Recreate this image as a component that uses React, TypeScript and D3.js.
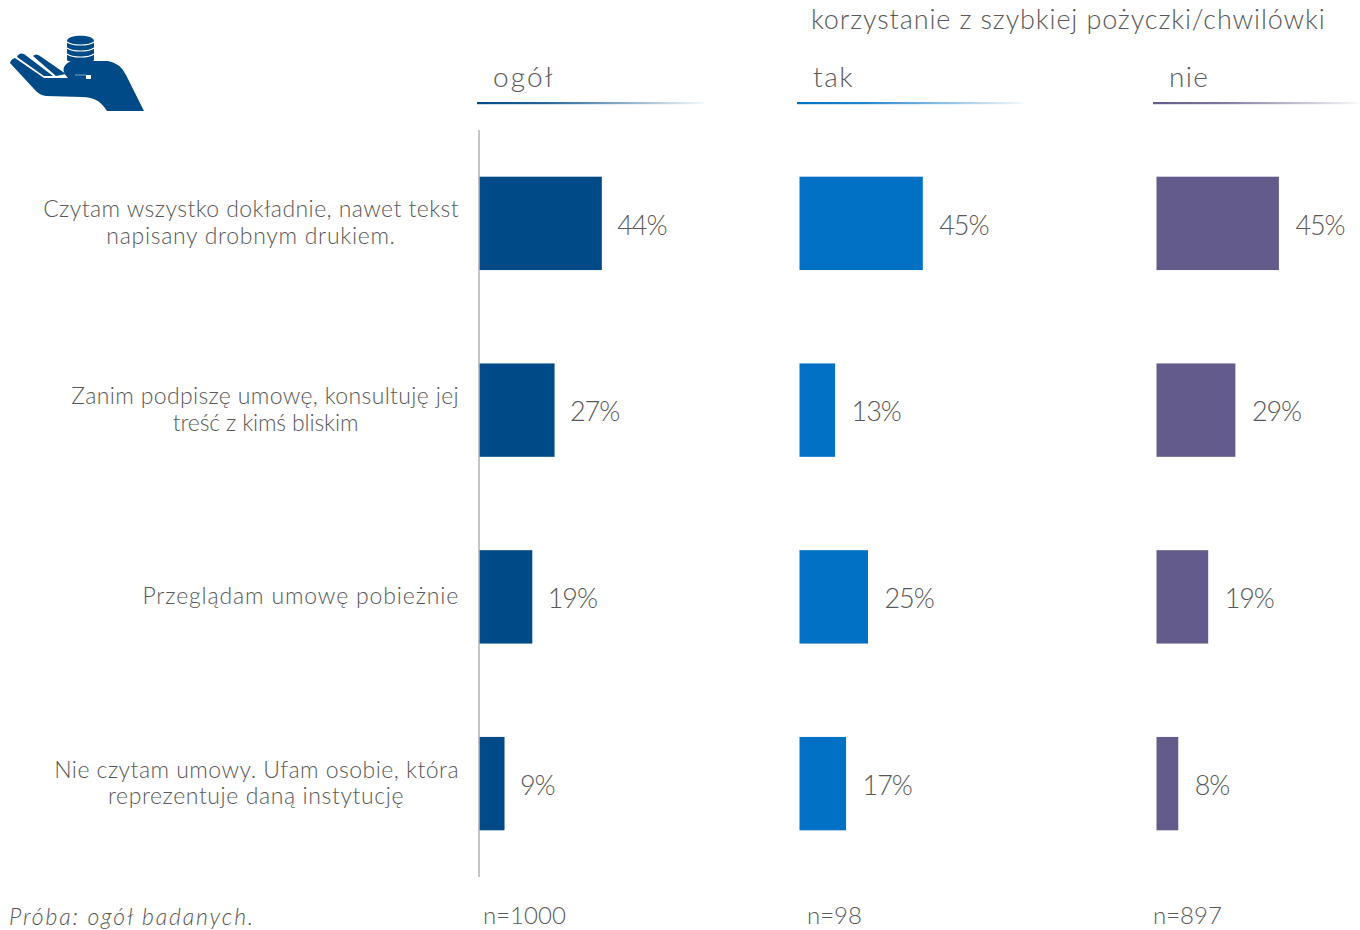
import React from "react";
import * as d3 from "d3";

const categories = [
  ["Czytam wszystko dokładnie, nawet tekst", "napisany drobnym drukiem."],
  ["Zanim podpiszę umowę, konsultuję jej", "treść z kimś bliskim"],
  ["Przeglądam umowę pobieżnie"],
  ["Nie czytam umowy. Ufam osobie, która", "reprezentuje daną instytucję"],
];
const rowKeys = ["0", "1", "2", "3"];
const ogolValues = [44, 27, 19, 9];
const takValues = [45, 13, 25, 17];
const nieValues = [45, 29, 19, 8];
const panelNames = ["ogół", "tak", "nie"];
const sampleLabels = ["n=1000", "n=98", "n=897"];
const panelColors = ["#004B87", "#0071C4", "#625B8C"];
const superTitle = "korzystanie z szybkiej pożyczki/chwilówki";
const footnote = "Próba: ogół badanych.";

const FONT = "'Lato', 'Open Sans', sans-serif";
const TEXT = "#595959";

const lineSpacing = [[0.42, 0.7], [0.35, -0.15], [0.85], [0.47, 0.6]];
const secondLineCenter = [251, 265.5, 0, 256];

const panels = [
  { values: ogolValues, x0: 479.5, ppt: 2.78, titleX: 493, titleSp: 2.1, lineX: 477, lineW: 228, nX: 483, labelGap: 15.5 },
  { values: takValues, x0: 799.5, ppt: 2.74, titleX: 813, titleSp: 1.6, lineX: 797, lineW: 228, nX: 807, labelGap: 16.5 },
  { values: nieValues, x0: 1156.5, ppt: 2.72, titleX: 1169, titleSp: 1.3, lineX: 1153, lineW: 207, nX: 1153, labelGap: 16.5 },
];

const yBand = d3.scaleBand<string>().domain(rowKeys).range([130, 877]).paddingInner(0.5).paddingOuter(0.25);

export default function App() {
  return (
    <svg
      width={1360}
      height={930}
      viewBox="0 0 1360 930"
      style={{ position: "fixed", left: 0, top: 0, background: "#fff", display: "block" }}
      fontFamily={FONT}
      fontWeight={300}
    >
      <defs>
        {panels.map((p, i) => (
          <linearGradient key={i} id={`grad${i}`} x1="0" x2="1" y1="0" y2="0">
            <stop offset="0" stopColor={panelColors[i]} />
            <stop offset="0.3" stopColor={panelColors[i]} stopOpacity={0.85} />
            <stop offset="1" stopColor={panelColors[i]} stopOpacity={0.03} />
          </linearGradient>
        ))}
      </defs>

      {/* hand logo */}
      <g fill="#004B87">
        <path d="M10 63 Q11 59 15 58 L44 78 L68 78 Q62 72 64 67 Q67 62 72 61 L93 61 L108 61 Q120 63 126 75 L144 111 L107 111 Q102 103 96 100 Q90 97 82 97 L46 96 Q39 95 35 90 Z" />
        <path d="M17 57 Q19 52 24 54 L53 76 L44 76 Z" />
        <path d="M33 56 Q36 53 40 56 L66 74 L56 76 Z" />
        <path d="M67 41 C67 34 94 34 94 41 L94 60 C94 63 67 63 67 60 Z" />
      </g>
      <g fill="none" stroke="#fff" strokeWidth={1.2}>
        <path d="M67 42 C72 46 89 46 94 42" />
        <path d="M67 48 C72 52 89 52 94 48" />
        <path d="M67 54 C72 58 89 58 94 54" />
      </g>
      <rect x="86" y="75" width="5" height="4" fill="#fff" />
      <rect x="75" y="74.5" width="11" height="1" fill="#7fa4c3" />

      <text x={811} y={29} fontSize={27} fill={TEXT} letterSpacing={0.87}>{superTitle}</text>

      {panels.map((p, i) => {
        const x = d3.scaleLinear().domain([0, 1]).range([p.x0, p.x0 + p.ppt]);
        return (
          <g key={i}>
            <text x={p.titleX} y={87} fontSize={28} fill={TEXT} letterSpacing={p.titleSp}>{panelNames[i]}</text>
            <rect x={p.lineX} y={102} width={p.lineW} height={2.2} fill={`url(#grad${i})`} />
            {p.values.map((v, j) => {
              const y = yBand(rowKeys[j])!;
              return (
                <g key={j}>
                  <rect x={x(0)} y={y} width={x(v) - x(0)} height={yBand.bandwidth()} fill={panelColors[i]} />
                  <text
                    x={x(v) + p.labelGap}
                    y={y + yBand.bandwidth() / 2 + 4.5}
                    dominantBaseline="middle"
                    fontSize={27}
                    letterSpacing={-1.1}
                    fill={TEXT}
                  >
                    {v}%
                  </text>
                </g>
              );
            })}
            <text x={p.nX} y={924} fontSize={24} fill={TEXT}>{sampleLabels[i]}</text>
          </g>
        );
      })}

      <line x1={479} x2={479} y1={130} y2={877} stroke="#8c8c8c" strokeWidth={1} />

      {categories.map((lines, j) => {
        const cy = yBand(rowKeys[j])! + yBand.bandwidth() / 2;
        const top = cy - ((lines.length - 1) * 26.5) / 2 + 1.5;
        return (
          <g key={j}>
            {lines.map((l, k) => (
              <text
                key={k}
                x={k === 0 ? 459 : secondLineCenter[j]}
                y={top + k * 26.5}
                textAnchor={k === 0 ? "end" : "middle"}
                dominantBaseline="middle"
                fontSize={23}
                letterSpacing={lineSpacing[j][k]}
                fill={TEXT}
              >
                {l}
              </text>
            ))}
          </g>
        );
      })}

      <text x={9} y={925} fontSize={23} fontStyle="italic" fill={TEXT} letterSpacing={1.85}>{footnote}</text>
    </svg>
  );
}
